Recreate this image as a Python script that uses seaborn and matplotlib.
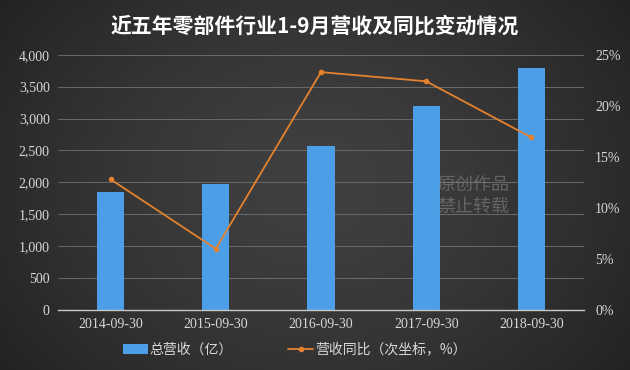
import numpy as np
import pandas as pd
import matplotlib
matplotlib.use("Agg")
import matplotlib.pyplot as plt
import seaborn as sns
from matplotlib.lines import Line2D
from matplotlib.patches import Patch

dates = ["2014-09-30", "2015-09-30", "2016-09-30", "2017-09-30", "2018-09-30"]
revenue = [1850, 1970, 2570, 3200, 3790]
yoy = [12.8, 6.0, 23.3, 22.4, 16.9]
left_ticks = [0, 500, 1000, 1500, 2000, 2500, 3000, 3500, 4000]
right_ticks = [0, 5, 10, 15, 20, 25]
title = "近五年零部件行业1-9月营收及同比变动情况"
bar_label = "总营收（亿）"
line_label = "营收同比（次坐标，%）"

sns.set_theme(style="white")
fam = ["Liberation Serif", "Noto Sans CJK SC", "DejaVu Sans"]
plt.rcParams["font.family"] = fam

df = pd.DataFrame({"date": dates, "revenue": revenue, "yoy": yoy})

fig = plt.figure(figsize=(6.3, 3.7), dpi=100)
bg = fig.add_axes([0, 0, 1, 1], zorder=-10)
xx = np.linspace(-1, 1, 400)
yy = np.linspace(-1, 1, 240)
X, Y = np.meshgrid(xx, yy)
R = np.sqrt((X * 0.95) ** 2 + (Y * 0.7) ** 2)
val = 0.25 - 0.09 * np.clip(R, 0, 1.3) ** 1.5
bg.imshow(np.dstack([val, val, val]), aspect="auto", extent=[0, 1, 0, 1], origin="lower")
bg.axis("off")

ax = fig.add_axes([0.092, 0.162, 0.835, 0.69])
ax.patch.set_alpha(0)
sns.barplot(data=df, x="date", y="revenue", ax=ax, color="#4c9ee6", width=0.26,
            saturation=1, edgecolor="none")
ax.set_ylim(0, 4000)
ax.set_yticks(left_ticks)
ax.set_yticklabels([f"{v:,}" for v in left_ticks], family=fam)
ax.set_xlabel("")
ax.set_ylabel("")
for v in left_ticks[1:]:
    ax.axhline(v, color="#6a6a6a", lw=0.7, zorder=0)
for s in ["top", "right", "left"]:
    ax.spines[s].set_visible(False)
ax.spines["bottom"].set_color("#c8c8c8")
ax.spines["bottom"].set_linewidth(1.0)
ax.tick_params(axis="both", colors="#d8d8d8", labelsize=10, length=0, pad=6)
ax.set_xlim(-0.5, 4.5)

ax2 = ax.twinx()
sns.pointplot(data=df, x="date", y="yoy", ax=ax2, color="#e5822e",
              markers="o", markersize=3, linewidth=1.3)
ax2.set_ylim(0, 25)
ax2.set_yticks(right_ticks)
ax2.set_yticklabels([f"{v}%" for v in right_ticks], family=fam)
ax2.set_ylabel("")
ax2.set_xlabel("")
for s in ["top", "right", "left", "bottom"]:
    ax2.spines[s].set_visible(False)
ax2.tick_params(axis="y", colors="#d8d8d8", labelsize=10, length=0, pad=8)
ax2.set_xlim(-0.5, 4.5)

fig.text(0.5, 0.93, title, ha="center", va="center", color="white",
         fontsize=15, fontweight="bold", family=["Noto Sans CJK SC", "DejaVu Sans"])

fig.text(0.695, 0.47, "原创作品\n禁止转载", color="#8a8a8a", alpha=0.55, fontsize=13,
         family=["Noto Sans CJK SC"], ha="left", va="center", linespacing=1.3)

handles = [Patch(facecolor="#4c9ee6", edgecolor="none"),
           Line2D([0], [0], color="#e5822e", marker="o", markersize=3, lw=1.3)]
leg = fig.legend(handles, [bar_label, line_label], loc="center", bbox_to_anchor=(0.468, 0.055),
                 ncol=2, frameon=False, handlelength=1.8, columnspacing=4.0,
                 handletextpad=0.1, prop={"family": ["Noto Sans CJK SC"], "size": 10})
for t in leg.get_texts():
    t.set_color("#d8d8d8")

fig.savefig("out.png", dpi=100)
